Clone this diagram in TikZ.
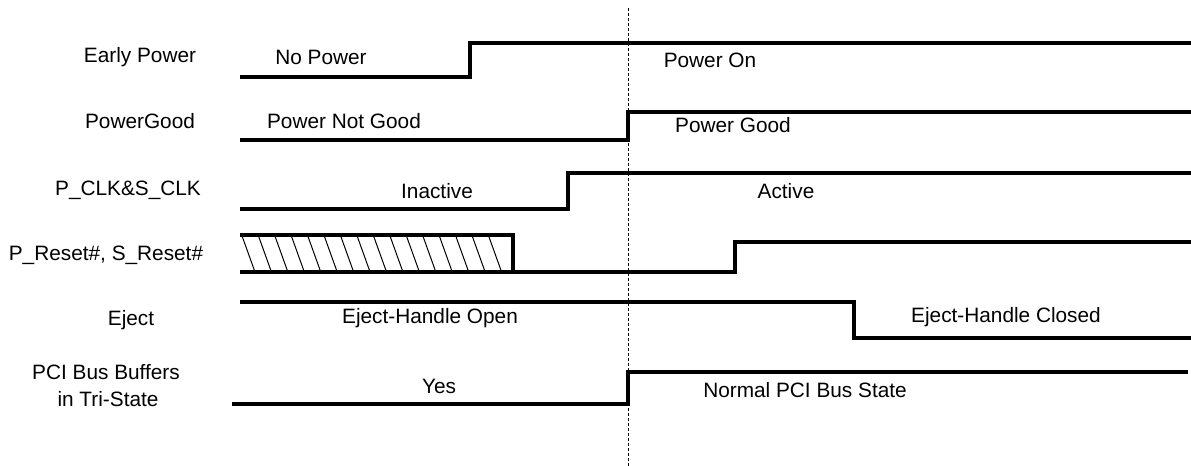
\documentclass[tikz,border=0pt]{standalone}
\usepackage{fontspec}
\setmainfont{Liberation Sans}
\begin{document}
\begin{tikzpicture}[x=0.5pt,y=-0.5pt,
  lbl/.style={inner sep=0pt,font=\fontsize{10.4}{12.5}\selectfont,align=center},
  wave/.style={line width=1.7pt,line join=miter},
  hatchline/.style={line width=0.5pt},
  marker/.style={line width=0.5pt,dash pattern=on 1.5pt off 1pt}]
\useasboundingbox (0,0) rectangle (1191,466);
% signal names
\node[lbl] (nEarly) at (140,57) {Early Power};
\node[lbl] (nPG) at (140,121) {PowerGood};
\node[lbl] (nClk) at (128,190) {P\_CLK\&S\_CLK};
\node[lbl] (nRst) at (106,255) {P\_Reset\#, S\_Reset\#};
\node[lbl] (nEject) at (131,320) {Eject};
\node[lbl] (nPci1) at (106,372) {PCI Bus Buffers};
\node[lbl] (nPci2) at (108,399) {in Tri-State};
% state texts
\node[lbl] (sNoPower) at (321,57) {No Power};
\node[lbl] (sPowerOn) at (710,60) {Power On};
\node[lbl] (sPNG) at (344,121) {Power Not Good};
\node[lbl] (sPG) at (733,125) {Power Good};
\node[lbl] (sInact) at (437,191) {Inactive};
\node[lbl] (sAct) at (786,191) {Active};
\node[lbl] (sEOpen) at (430,318) {Eject-Handle Open};
\node[lbl] (sEClosed) at (1006,317) {Eject-Handle Closed};
\node[lbl] (sYes) at (439,386) {Yes};
\node[lbl] (sNormal) at (805,390) {Normal PCI Bus State};
% waveforms
\draw[wave] (240,77) -- (470,77) -- (470,43) -- (1191,43);
\draw[wave] (240,140) -- (628,140) -- (628,112) -- (1191,112);
\draw[wave] (240,209) -- (568,209) -- (568,173) -- (1191,173);
\draw[wave] (240,235) -- (513,235) -- (513,272);
\draw[wave] (240,272) -- (735,272) -- (735,242) -- (1191,242);
\draw[wave] (240,302) -- (854,302) -- (854,338) -- (1191,338);
\draw[wave] (232,404) -- (628,404) -- (628,372) -- (1188,372);
% hatching
\foreach \i in {0,...,15}{
  \draw[hatchline] ({241.7+16.44*\i},235) -- ({255+16.44*\i},272);
}
% marker line
\draw[marker] (628,8) -- (628,466);
\end{tikzpicture}
\end{document}
